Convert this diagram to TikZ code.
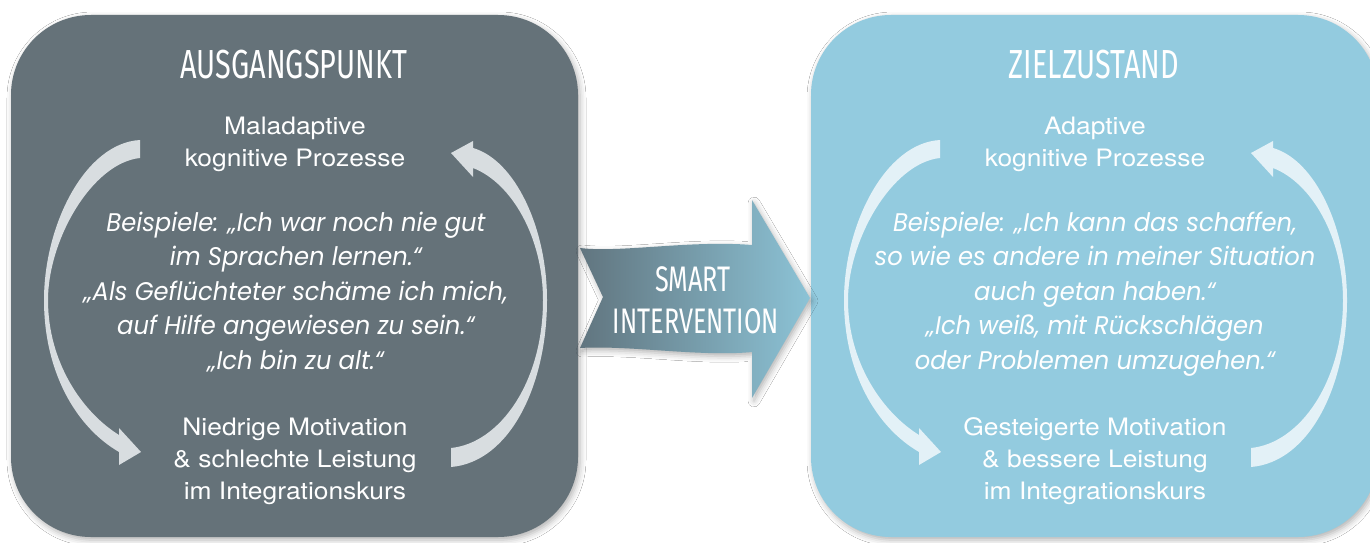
\documentclass[tikz,border=0pt]{standalone}
\usepackage{fontspec}
\setmainfont{TeX Gyre Heros}
\newfontfamily\regfont[FakeStretch=1.1]{TeX Gyre Heros}
\newfontfamily\condfont[FakeStretch=0.71]{Fira Sans}
\newfontfamily\itfont[FakeStretch=0.95]{Poppins}
\usetikzlibrary{shadows.blur}
\definecolor{slate}{RGB}{101,114,121}
\definecolor{sky}{RGB}{147,203,223}
\definecolor{arcL}{RGB}{216,221,224}
\definecolor{arcR}{RGB}{227,241,247}
\definecolor{arrL}{RGB}{97,117,127}
\definecolor{arrR}{RGB}{140,195,214}
\tikzset{
  softshadow/.style={blur shadow={shadow xshift=2pt,shadow yshift=-3pt,shadow blur radius=6pt,shadow opacity=30}},
  panel/.style={rounded corners=80pt, softshadow},
  title/.style={text=white, inner sep=0pt, anchor=base, font=\condfont\fontsize{40.6}{40}\selectfont},
  armtext/.style={text=white, inner sep=0pt, anchor=base, font=\condfont\fontsize{35.5}{36}\selectfont},
  plain/.style={text=white, inner sep=0pt, anchor=base, font=\regfont\fontsize{24}{24}\selectfont},
  quote/.style={text=white, inner sep=0pt, anchor=base, font=\itfont\itshape\fontsize{25.5}{25}\selectfont},
  cycarrows/.pic={
    \fill[pic actions] (140,140) .. controls (85,143) and (44,225) .. (44,300)
      .. controls (44,372) and (76,427) .. (119,452) -- (119,465) -- (141,452) -- (119,428) -- (119,435)
      .. controls (82,412) and (48,362) .. (48,300)
      .. controls (48,240) and (92,163) .. (140,158) -- cycle;
    \fill[pic actions] (473,148) .. controls (515,160) and (547,228) .. (547,300)
      .. controls (547,385) and (510,462) .. (451,467) -- (451,448)
      .. controls (500,443) and (543,382) .. (543,300)
      .. controls (543,238) and (512,183) .. (473,168) -- (473,177) -- (451,153) -- (473,141) -- cycle;
  }
}
\begin{document}
\begin{tikzpicture}[x=1pt,y=-1pt]
\useasboundingbox (0,0) rectangle (1370,543);
\fill[white] (0,0) rectangle (1370,543);
% panels
\fill[slate, panel] (11,15) rectangle (578,537);
\fill[sky, panel] (811,15) rectangle (1378,537);
% cycle arrows
\pic[fill=arcL] at (0,0) {cycarrows};
\pic[fill=arcR] at (800,0) {cycarrows};
% middle arrow
\shade[left color=arrL, right color=arrR, softshadow] (580,248) .. controls (620,253) and (690,240) .. (752,245)
  -- (752,200) -- (810,298) -- (752,398) -- (752,352)
  .. controls (700,357) and (630,345) .. (580,348) -- (603,297) -- cycle;
\node[armtext] (smart) at (693,291) {SMART};
\node[armtext] (interv) at (696,333) {INTERVENTION};
% left panel texts
\node[title] (tl) at (294,78) {AUSGANGSPUNKT};
\node[plain] (ml1) at (295,134) {Maladaptive};
\node[plain] (ml2) at (295,166.7) {kognitive Prozesse};
\foreach \t [count=\i] in {{Beispiele: „Ich war noch nie gut},{im Sprachen lernen.“},{„Als Geflüchteter schäme ich mich,},{auf Hilfe angewiesen zu sein.“},{„Ich bin zu alt.“}}
  \node[quote] (ql\i) at (296,{231.5+34.4*(\i-1)}) {\t};
\node[plain] (bl1) at (295,435) {Niedrige Motivation};
\node[plain] (bl2) at (295,467) {\& schlechte Leistung};
\node[plain] (bl3) at (295,499) {im Integrationskurs};
% right panel texts
\node[title] (tr) at (1094,78) {ZIELZUSTAND};
\node[plain] (mr1) at (1095,134) {Adaptive};
\node[plain] (mr2) at (1095,166.7) {kognitive Prozesse};
\foreach \t [count=\i] in {{Beispiele: „Ich kann das schaffen,},{so wie es andere in meiner Situation},{auch getan haben.“},{„Ich weiß, mit Rückschlägen},{oder Problemen umzugehen.“}}
  \node[quote] (qr\i) at (1095,{231.5+34.4*(\i-1)}) {\t};
\node[plain] (br1) at (1095,435) {Gesteigerte Motivation};
\node[plain] (br2) at (1095,467) {\& bessere Leistung};
\node[plain] (br3) at (1095,499) {im Integrationskurs};
\end{tikzpicture}
\end{document}
